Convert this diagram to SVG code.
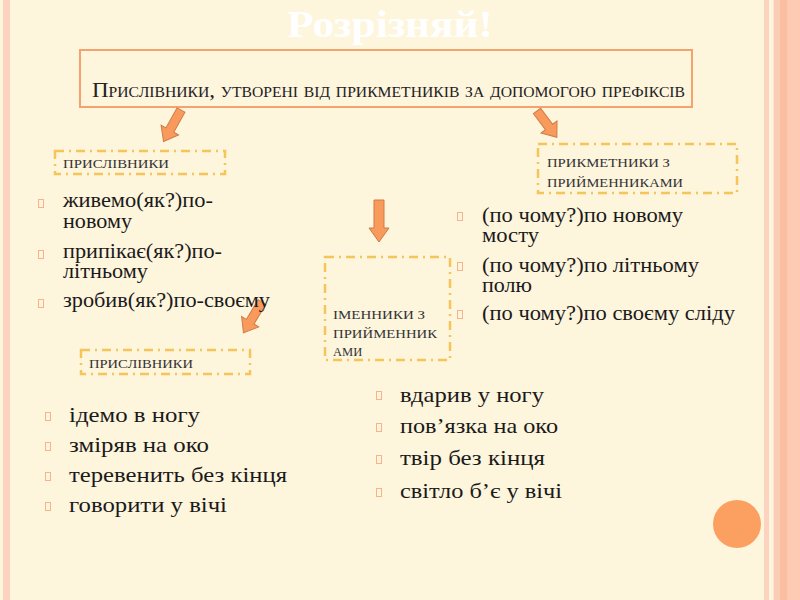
<svg xmlns="http://www.w3.org/2000/svg" width="800" height="600" viewBox="0 0 800 600">
<style>
.title{font-family:"Liberation Serif",serif;font-weight:bold;font-size:37px;fill:#ffffff}
.head{font-family:"Liberation Serif",serif;font-size:22px;font-variant:small-caps;fill:#222}
.lbl{font-family:"Liberation Serif",serif;font-size:12.5px;fill:#333}
.body{font-family:"Liberation Serif",serif;font-size:21px;fill:#1a1a1a}
.dbox{fill:none;stroke:#F5C55A;stroke-width:2.5;stroke-dasharray:9 5 2 5}
.arrow{fill:#F79A5B;stroke:#D07A45;stroke-width:1}
.bul{fill:none;stroke:#F7B38C;stroke-width:1}
</style>
<rect x="0" y="0" width="800" height="600" fill="#FEF5DD"/>
<rect x="3" y="0" width="7" height="600" fill="#FCD3BF"/>
<rect x="764" y="0" width="5" height="600" fill="#FCD3BF"/>
<rect x="773" y="0" width="1" height="600" fill="#FDE3D3"/>
<rect x="774" y="0" width="6" height="600" fill="#FCCDB6"/>
<rect x="780" y="0" width="7" height="600" fill="#FBBE9F"/>
<rect x="787" y="0" width="13" height="600" fill="#FDCBB4"/>
<circle cx="737" cy="524" r="24" fill="#FCA062"/>
<text class="title" x="390" y="37" text-anchor="middle" textLength="206" lengthAdjust="spacingAndGlyphs">Розрізняй!</text>

<g id="header">
<rect x="80" y="50" width="612" height="57" fill="none" stroke="#F4A26E" stroke-width="2"/>
<text class="head" x="92" y="97" textLength="593" lengthAdjust="spacingAndGlyphs">Прислівники, утворені від прикметників за допомогою префіксів</text>
</g>

<g id="connectors">
<path class="arrow" transform="translate(181,110) rotate(29)" d="M-4.5,0 L4.5,0 L4.5,23 L10,23 L0,36 L-10,23 L-4.5,23 Z"/>
<path class="arrow" transform="translate(537,111) rotate(-37)" d="M-4.5,0 L4.5,0 L4.5,20 L10,20 L0,33 L-10,20 L-4.5,20 Z"/>
<path class="arrow" transform="translate(379,200)" d="M-5,0 L5,0 L5,28 L10,28 L0,42 L-10,28 L-5,28 Z"/>
<path class="arrow" transform="translate(262,302) rotate(31)" d="M-4.5,0 L4.5,0 L4.5,23 L10,23 L0,36 L-10,23 L-4.5,23 Z"/>
</g>

<g id="adverbs1">
<rect class="dbox" x="55" y="151" width="170" height="23"/>
<text class="lbl" x="63" y="168" textLength="106" lengthAdjust="spacingAndGlyphs">ПРИСЛІВНИКИ</text>
</g>

<g id="adjectives">
<rect class="dbox" x="538" y="144" width="199" height="49"/>
<text class="lbl" x="547" y="167" textLength="123" lengthAdjust="spacingAndGlyphs">ПРИКМЕТНИКИ З</text>
<text class="lbl" x="547" y="187" textLength="136" lengthAdjust="spacingAndGlyphs">ПРИЙМЕННИКАМИ</text>
</g>

<g id="nouns">
<rect class="dbox" x="325" y="257" width="125" height="103"/>
<text class="lbl" x="333" y="319" textLength="92" lengthAdjust="spacingAndGlyphs">ІМЕННИКИ З</text>
<text class="lbl" x="333" y="338" textLength="104" lengthAdjust="spacingAndGlyphs">ПРИЙМЕННИК</text>
<text class="lbl" x="333" y="356">АМИ</text>
</g>

<g id="adverbs2">
<rect class="dbox" x="81" y="350" width="169" height="24"/>
<text class="lbl" x="89" y="368" textLength="104" lengthAdjust="spacingAndGlyphs">ПРИСЛІВНИКИ</text>
</g>

<g id="list1">
<rect class="bul" x="38.5" y="199.5" width="5" height="8"/>
<rect class="bul" x="38.5" y="250.5" width="5" height="8"/>
<rect class="bul" x="38.5" y="299.5" width="5" height="8"/>
<text class="body" x="63" y="207" textLength="150" lengthAdjust="spacingAndGlyphs">живемо(як?)по-</text>
<text class="body" x="63" y="228" textLength="69" lengthAdjust="spacingAndGlyphs">новому</text>
<text class="body" x="63" y="258" textLength="159" lengthAdjust="spacingAndGlyphs">припікає(як?)по-</text>
<text class="body" x="63" y="278" textLength="85" lengthAdjust="spacingAndGlyphs">літньому</text>
<text class="body" x="63" y="307" textLength="207" lengthAdjust="spacingAndGlyphs">зробив(як?)по-своєму</text>
</g>

<g id="list2">
<rect class="bul" x="457.5" y="212.5" width="5" height="8"/>
<rect class="bul" x="457.5" y="262.5" width="5" height="8"/>
<rect class="bul" x="457.5" y="310.5" width="5" height="8"/>
<text class="body" x="482" y="222" textLength="201" lengthAdjust="spacingAndGlyphs">(по чому?)по новому</text>
<text class="body" x="482" y="242" textLength="57" lengthAdjust="spacingAndGlyphs">мосту</text>
<text class="body" x="482" y="272" textLength="217" lengthAdjust="spacingAndGlyphs">(по чому?)по літньому</text>
<text class="body" x="482" y="292" textLength="50" lengthAdjust="spacingAndGlyphs">полю</text>
<text class="body" x="482" y="320" textLength="253" lengthAdjust="spacingAndGlyphs">(по чому?)по своєму сліду</text>
</g>

<g id="list3">
<rect class="bul" x="45.5" y="412.5" width="5" height="8"/>
<rect class="bul" x="45.5" y="442.5" width="5" height="8"/>
<rect class="bul" x="45.5" y="472.5" width="5" height="8"/>
<rect class="bul" x="45.5" y="502.5" width="5" height="8"/>
<text class="body" x="69" y="422" textLength="131" lengthAdjust="spacingAndGlyphs">ідемо в ногу</text>
<text class="body" x="69" y="452" textLength="140" lengthAdjust="spacingAndGlyphs">зміряв на око</text>
<text class="body" x="69" y="482" textLength="218" lengthAdjust="spacingAndGlyphs">теревенить без кінця</text>
<text class="body" x="69" y="512" textLength="158" lengthAdjust="spacingAndGlyphs">говорити у вічі</text>
</g>

<g id="list4">
<rect class="bul" x="376.5" y="391.5" width="5" height="8"/>
<rect class="bul" x="376.5" y="423.5" width="5" height="8"/>
<rect class="bul" x="376.5" y="455.5" width="5" height="8"/>
<rect class="bul" x="376.5" y="488.5" width="5" height="8"/>
<text class="body" x="400" y="402" textLength="144" lengthAdjust="spacingAndGlyphs">вдарив у ногу</text>
<text class="body" x="400" y="433" textLength="158" lengthAdjust="spacingAndGlyphs">пов’язка на око</text>
<text class="body" x="400" y="465" textLength="145" lengthAdjust="spacingAndGlyphs">твір без кінця</text>
<text class="body" x="400" y="498" textLength="162" lengthAdjust="spacingAndGlyphs">світло б’є у вічі</text>
</g>
</svg>
